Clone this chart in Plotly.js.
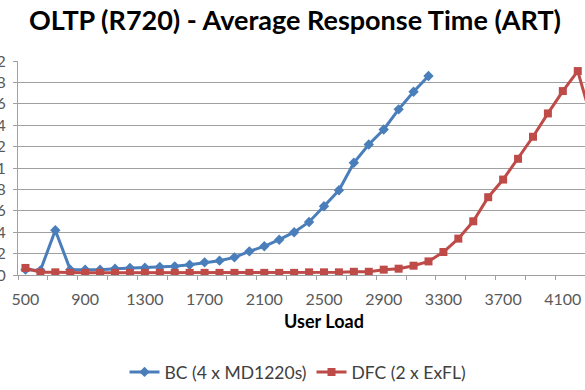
<!DOCTYPE html>
<html>
<head>
<meta charset="utf-8">
<script src="https://cdn.plot.ly/plotly-3.0.1.min.js"></script>
<style>
  html, body { margin: 0; padding: 0; width: 585px; height: 390px; overflow: hidden; background: #fff; }
  #chart { position: absolute; left: -60px; top: 0; width: 720px; height: 390px; }
</style>
</head>
<body>
<div id="chart"></div>
<script>
// User load (x) for each series
const bcLoad = [500,600,700,800,900,1000,1100,1200,1300,1400,1500,1600,1700,1800,1900,2000,2100,2200,2300,2400,2500,2600,2700,2800,2900,3000,3100,3200];
const bcART  = [0.05,0.043,0.418,0.05,0.05,0.05,0.059,0.065,0.068,0.075,0.081,0.096,0.118,0.134,0.165,0.221,0.268,0.33,0.40,0.496,0.642,0.792,1.049,1.22,1.36,1.548,1.713,1.86];

const dfcLoad = [500,600,700,800,900,1000,1100,1200,1300,1400,1500,1600,1700,1800,1900,2000,2100,2200,2300,2400,2500,2600,2700,2800,2900,3000,3100,3200,3300,3400,3500,3600,3700,3800,3900,4000,4100,4200,4300];
const dfcART  = [0.066,0.025,0.025,0.02,0.02,0.02,0.02,0.02,0.02,0.02,0.02,0.02,0.02,0.02,0.02,0.02,0.02,0.02,0.02,0.025,0.025,0.025,0.03,0.03,0.05,0.059,0.087,0.127,0.215,0.34,0.502,0.727,0.892,1.086,1.292,1.51,1.719,1.906,1.42];

const xTickVals = [500,900,1300,1700,2100,2500,2900,3300,3700,4100];
const xTickText = ['500','900','1300','1700','2100','2500','2900','3300','3700','4100'];
const yTickVals = [0,0.2,0.4,0.6,0.8,1,1.2,1.4,1.6,1.8,2];
const yTickText = ['0','0.2','0.4','0.6','0.8','1','1.2','1.4','1.6','1.8','2'];

const seriesNames = ['BC (4 x MD1220s)', 'DFC (2 x ExFL)'];
const chartTitle = 'OLTP (R720) - Average Response Time (ART)';
const xTitle = 'User Load';

const traces = [
  {
    x: bcLoad, y: bcART, name: seriesNames[0], type: 'scatter', mode: 'lines+markers',
    line: { color: '#4A7EBB', width: 3 },
    marker: { symbol: 'diamond', size: 8, color: '#4A7EBB' }
  },
  {
    x: dfcLoad, y: dfcART, name: seriesNames[1], type: 'scatter', mode: 'lines+markers',
    line: { color: '#BE4B48', width: 3 },
    marker: { symbol: 'square', size: 8, color: '#BE4B48' }
  }
];

const layout = {
  width: 720, height: 390,
  paper_bgcolor: '#ffffff', plot_bgcolor: '#ffffff',
  margin: { l: 78, r: 29.5, t: 61, b: 115 },
  font: { family: 'Lato, "Open Sans", sans-serif', color: '#404040' },
  title: {
    text: chartTitle,
    font: { family: 'Lato, sans-serif', size: 27, color: '#000000', weight: 'bold' },
    xref: 'container', x: 355/720, xanchor: 'center',
    yref: 'container', y: 1 - 21/390, yanchor: 'middle'
  },
  xaxis: {
    type: 'linear', range: [450, 4550],
    tickmode: 'array', tickvals: xTickVals, ticktext: xTickText,
    ticks: '', showgrid: false, zeroline: false,
    showline: true, linecolor: '#A0A0A0', linewidth: 1,
    tickfont: { size: 16, color: '#595959' },
    ticklabelstandoff: 10,
    minor: { ticks: 'outside', ticklen: 4, tickcolor: '#A0A0A0', tickmode: 'linear', tick0: 450, dtick: 200, showgrid: false },
    title: { text: xTitle, font: { size: 18, color: '#000000', weight: 'bold' }, standoff: 8 }
  },
  yaxis: {
    range: [0, 2], tickmode: 'array', tickvals: yTickVals, ticktext: yTickText,
    showgrid: true, gridcolor: '#A0A0A0', gridwidth: 1,
    zeroline: false, showline: true, linecolor: '#A0A0A0', linewidth: 1,
    ticks: 'outside', ticklen: 4, tickcolor: '#A0A0A0',
    tickfont: { size: 16, color: '#595959' },
    ticklabelstandoff: 4
  },
  showlegend: true,
  legend: {
    orientation: 'h',
    xref: 'container', x: 358/720, xanchor: 'center',
    yref: 'container', y: 18/390, yanchor: 'middle',
    font: { size: 17.5, color: '#404040' }
  }
};

Plotly.newPlot('chart', traces, layout, { staticPlot: true, displayModeBar: false });
</script>
</body>
</html>
